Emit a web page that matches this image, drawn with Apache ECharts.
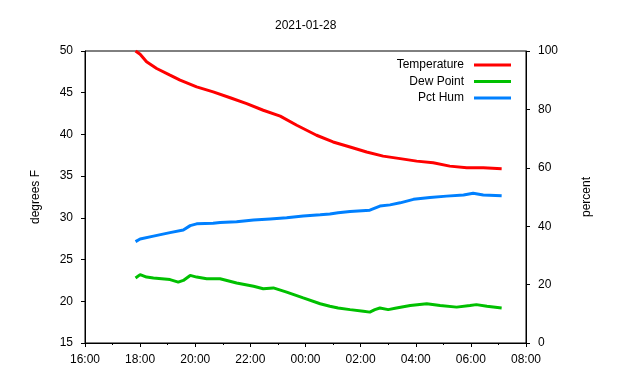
<!DOCTYPE html>
<html>
<head>
<meta charset="utf-8">
<script src="https://cdn.jsdelivr.net/npm/echarts@6/dist/echarts.min.js"></script>
<style>html,body{margin:0;padding:0;background:#fff}#c{width:640px;height:380px}</style>
</head>
<body>
<div id="c"></div>
<script>
const chartTitle = "2021-01-28";
const xTickLabels = ["16:00","18:00","20:00","22:00","00:00","02:00","04:00","06:00","08:00"];

const tempTimes = ["17:50","18:00","18:14","18:36","19:05","19:27","20:03","20:39","21:16","21:52","22:28","23:05","23:41","00:24","01:00","01:37","02:13","02:49","03:26","04:02","04:38","05:14","05:51","06:27","07:07"];
const tempVals  = [50.0,49.6,48.7,47.9,47.1,46.5,45.7,45.1,44.4,43.7,42.9,42.2,41.1,39.9,39.1,38.5,37.9,37.4,37.1,36.8,36.6,36.2,36.0,36.0,35.9];

const dewTimes = ["17:50","18:00","18:14","18:29","19:05","19:23","19:34","19:49","20:03","20:25","20:54","21:30","22:07","22:28","22:50","23:19","23:55","00:32","00:53","01:11","01:37","02:06","02:20","02:31","02:42","03:00","03:18","03:48","04:24","04:53","05:29","05:58","06:12","06:35","07:07"];
const dewVals  = [22.8,23.2,22.9,22.8,22.6,22.3,22.5,23.1,22.9,22.7,22.7,22.2,21.8,21.5,21.6,21.1,20.4,19.7,19.4,19.2,19.0,18.8,18.7,19.0,19.2,19.0,19.2,19.5,19.7,19.5,19.3,19.5,19.6,19.4,19.2];

const humTimes = ["17:50","18:00","18:29","19:05","19:34","19:49","20:03","20:39","20:54","21:30","22:07","22:43","23:19","23:55","00:32","00:53","01:11","01:37","02:20","02:42","03:04","03:26","03:55","04:31","05:07","05:44","06:05","06:27","07:07"];
const humVals  = [34.7,35.6,36.6,37.8,38.7,40.2,40.8,41.0,41.3,41.5,42.1,42.5,42.9,43.5,43.9,44.2,44.6,45.0,45.5,46.9,47.3,48.0,49.2,49.8,50.3,50.7,51.3,50.7,50.4];

function toHours(s){
  const p = s.split(":");
  let h = parseInt(p[0],10) + parseInt(p[1],10)/60;
  if (h < 12) h += 24;
  return h;
}
function pairs(times, vals){ return times.map((t,i)=>[toHours(t), vals[i]]); }

const FONT = "'Liberation Sans', Arial, sans-serif";
const chart = echarts.init(document.getElementById('c'), null, {renderer:'canvas'});
chart.setOption({
  animation:false,
  backgroundColor:'#fff',
  textStyle:{fontFamily:FONT, color:'#000'},
  title:{text:chartTitle, left:270, top:15, textStyle:{fontFamily:FONT, fontSize:12, fontWeight:'normal', color:'#000'}},
  legend:{
    orient:'vertical', right:129, top:59, align:'right', padding:0,
    itemWidth:37, itemHeight:3, itemGap:4.5, icon:'rect',
    textStyle:{fontFamily:FONT, fontSize:12, color:'#000', padding:[0,5,0,0]},
    data:['Temperature','Dew Point','Pct Hum']
  },
  grid:{left:85, right:114, top:51, bottom:37, show:true, borderColor:'#000', borderWidth:1, backgroundColor:'transparent'},
  xAxis:{
    type:'value', min:16, max:32, interval:2,
    axisLine:{lineStyle:{color:'#000', width:1}},
    axisTick:{show:true, inside:false, length:4, lineStyle:{color:'#000'}},
    minorTick:{show:true, splitNumber:2, length:2, lineStyle:{color:'#000'}},
    splitLine:{show:false},
    axisLabel:{margin:11, fontFamily:FONT, fontSize:12, color:'#000',
      formatter:function(v){ const i = Math.round((v-16)/2); return xTickLabels[i] || ''; }}
  },
  yAxis:[
    {type:'value', min:15, max:50, interval:5, position:'left',
     name:'degrees F', nameLocation:'middle', nameGap:43, nameRotate:90,
     nameTextStyle:{fontFamily:FONT, fontSize:12, color:'#000'},
     axisLine:{show:true, lineStyle:{color:'#000'}},
     axisTick:{show:true, inside:false, length:4, lineStyle:{color:'#000'}},
     splitLine:{show:false},
     axisLabel:{margin:12, fontFamily:FONT, fontSize:12, color:'#000'}},
    {type:'value', min:0, max:100, interval:20, position:'right',
     name:'percent', nameLocation:'middle', nameGap:55, nameRotate:90,
     nameTextStyle:{fontFamily:FONT, fontSize:12, color:'#000'},
     axisLine:{show:true, lineStyle:{color:'#000'}},
     axisTick:{show:true, inside:false, length:4, lineStyle:{color:'#000'}},
     splitLine:{show:false},
     axisLabel:{margin:12, fontFamily:FONT, fontSize:12, color:'#000'}}
  ],
  series:[
    {name:'Temperature', type:'line', yAxisIndex:0, showSymbol:false, symbol:'none',
     data:pairs(tempTimes,tempVals), lineStyle:{color:'#ff0000', width:3}, itemStyle:{color:'#ff0000'}},
    {name:'Dew Point', type:'line', yAxisIndex:0, showSymbol:false, symbol:'none',
     data:pairs(dewTimes,dewVals), lineStyle:{color:'#00c000', width:3}, itemStyle:{color:'#00c000'}},
    {name:'Pct Hum', type:'line', yAxisIndex:1, showSymbol:false, symbol:'none',
     data:pairs(humTimes,humVals), lineStyle:{color:'#0080ff', width:3}, itemStyle:{color:'#0080ff'}}
  ]
});
</script>
</body>
</html>
